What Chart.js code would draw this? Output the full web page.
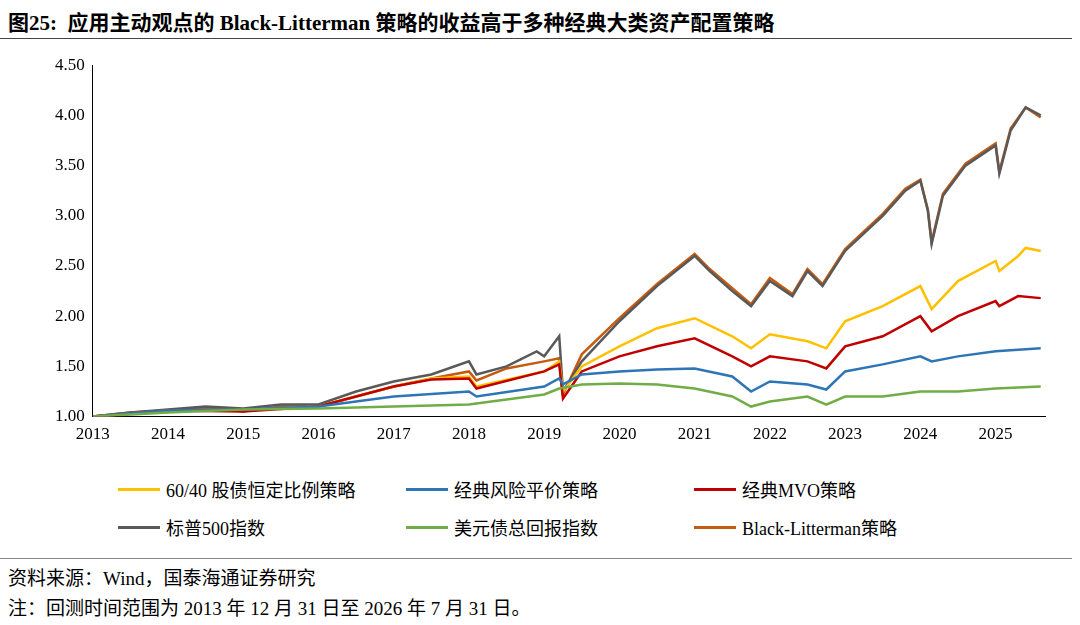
<!DOCTYPE html>
<html><head><meta charset="utf-8">
<script src="https://cdn.jsdelivr.net/npm/chart.js"></script>
<style>
body{margin:0;width:1080px;height:625px;background:#fff;font-family:"Liberation Serif","Noto Sans CJK SC",serif;position:relative;overflow:hidden}
#title{position:absolute;left:8px;top:6px;font-size:21px;font-weight:bold;color:#000}
.hr{position:absolute;left:0;width:1072px;border-top:1px solid #444}
#box{position:absolute;left:52px;top:52px;width:994px;height:396px}
#legend{position:absolute;left:118px;top:476px;width:900px;font-size:18px}
.it{position:absolute;display:flex;align-items:center;white-space:nowrap}
.sw{width:42px;height:3px;margin-right:6px}
.src{position:absolute;left:8px;font-size:19px}
</style></head><body>
<div id="title">图25:&nbsp;&nbsp;应用主动观点的 Black-Litterman 策略的收益高于多种经典大类资产配置策略</div>
<div class="hr" style="top:38px"></div>
<div id="box"><canvas id="c"></canvas></div>
<div id="legend"></div>
<div class="hr" style="top:558px;border-top:1px solid #888"></div>
<div class="src" style="top:563px">资料来源：Wind，国泰海通证券研究</div>
<div class="src" style="top:593px">注：回测时间范围为 2013 年 12 月 31 日至 2026 年 7 月 31 日。</div>
<script>
var yearTicks = [2013,2014,2015,2016,2017,2018,2019,2020,2021,2022,2023,2024,2025];

var spxX = [2013,2013.5,2014,2014.5,2015,2015.5,2016,2016.5,2017,2017.5,2018,2018.1,2018.5,2018.9,2019,2019.2,2019.25,2019.5,2020,2020.5,2021,2021.2,2021.5,2021.75,2022,2022.3,2022.5,2022.7,2023,2023.5,2023.8,2024,2024.1,2024.15,2024.3,2024.6,2025,2025.05,2025.2,2025.4,2025.6];
var spxY = [1.00,1.04,1.07,1.10,1.08,1.12,1.12,1.25,1.35,1.42,1.55,1.42,1.50,1.65,1.60,1.80,1.25,1.55,1.95,2.30,2.60,2.45,2.25,2.10,2.35,2.20,2.45,2.30,2.65,3.00,3.25,3.35,3.05,2.72,3.20,3.50,3.70,3.42,3.85,4.08,4.00];

var blX = [2013,2013.5,2014,2014.5,2015,2015.5,2016,2016.5,2017,2017.5,2018,2018.1,2018.5,2019,2019.2,2019.25,2019.5,2020,2020.5,2021,2021.2,2021.5,2021.75,2022,2022.3,2022.5,2022.7,2023,2023.5,2023.8,2024,2024.1,2024.15,2024.3,2024.6,2025,2025.05,2025.2,2025.4,2025.6];
var blY = [1.00,1.04,1.06,1.09,1.05,1.10,1.10,1.20,1.30,1.38,1.45,1.36,1.48,1.55,1.58,1.22,1.62,1.98,2.32,2.62,2.47,2.28,2.12,2.38,2.22,2.47,2.32,2.67,3.02,3.27,3.36,3.06,2.74,3.22,3.52,3.72,3.44,3.87,4.08,3.98];

var s6040X = [2013,2014,2015,2016,2016.5,2017,2017.5,2018,2018.1,2019,2019.2,2019.25,2019.5,2020,2020.5,2021,2021.5,2021.75,2022,2022.5,2022.75,2023,2023.5,2024,2024.15,2024.5,2025,2025.05,2025.3,2025.4,2025.6];
var s6040Y = [1.00,1.06,1.06,1.10,1.20,1.30,1.38,1.40,1.30,1.45,1.55,1.25,1.50,1.70,1.88,1.98,1.80,1.68,1.82,1.75,1.68,1.95,2.10,2.30,2.07,2.35,2.55,2.45,2.60,2.68,2.65];

var mvoX = [2013,2014,2015,2016,2017,2017.5,2018,2018.1,2019,2019.2,2019.25,2019.5,2020,2020.5,2021,2021.5,2021.75,2022,2022.5,2022.75,2023,2023.5,2024,2024.15,2024.5,2025,2025.05,2025.3,2025.6];
var mvoY = [1.00,1.06,1.05,1.10,1.30,1.37,1.38,1.28,1.45,1.52,1.18,1.45,1.60,1.70,1.78,1.60,1.50,1.60,1.55,1.48,1.70,1.80,2.00,1.85,2.00,2.15,2.10,2.20,2.18];

var rpX = [2013,2014,2015,2016,2017,2018,2018.1,2019,2019.2,2019.25,2019.5,2020,2020.5,2021,2021.5,2021.75,2022,2022.5,2022.75,2023,2023.5,2024,2024.15,2024.5,2025,2025.6];
var rpY = [1.00,1.06,1.07,1.10,1.20,1.25,1.20,1.30,1.38,1.32,1.42,1.45,1.47,1.48,1.40,1.25,1.35,1.32,1.27,1.45,1.52,1.60,1.55,1.60,1.65,1.68];

var bondX = [2013,2014,2015,2016,2017,2018,2019,2019.2,2019.5,2020,2020.5,2021,2021.5,2021.75,2022,2022.5,2022.75,2023,2023.5,2024,2024.5,2025,2025.6];
var bondY = [1.00,1.04,1.07,1.08,1.10,1.12,1.22,1.28,1.32,1.33,1.32,1.28,1.20,1.10,1.15,1.20,1.12,1.20,1.20,1.25,1.25,1.28,1.30];

var series = [
  {name:'60/40 股债恒定比例策略', x:s6040X, y:s6040Y, color:'#FFC000'},
  {name:'经典风险平价策略', x:rpX, y:rpY, color:'#2E75B6'},
  {name:'经典MVO策略', x:mvoX, y:mvoY, color:'#C00000'},
  {name:'标普500指数', x:spxX, y:spxY, color:'#595959'},
  {name:'美元债总回报指数', x:bondX, y:bondY, color:'#70AD47'},
  {name:'Black-Litterman策略', x:blX, y:blY, color:'#C55A11'}
];

var leg = document.getElementById('legend');
series.forEach(function(s,i){
  var d = document.createElement('div');
  d.className = 'it';
  d.style.left = (i%3)*288 + 'px';
  d.style.top = Math.floor(i/3)*38 + 'px';
  d.innerHTML = '<span class="sw" style="background:'+s.color+'"></span>'+s.name;
  leg.appendChild(d);
});

// draw order: bonds, rp, mvo, 6040, spx, bl on top
var order = [4,1,2,0,3,5];
var datasets = order.map(function(i){
  var s = series[i];
  return {
    label: s.name,
    data: s.x.map(function(v,k){ return {x:v, y:s.y[k]}; }),
    borderColor: s.color, borderWidth: 2.5, pointRadius: 0, tension: 0, fill: false
  };
});

new Chart(document.getElementById('c'), {
  type: 'line',
  data: {datasets: datasets},
  options: {
    animation: false, responsive: true, maintainAspectRatio: false,
    plugins: {legend: {display: false}, tooltip: {enabled: false}},
    scales: {
      x: {
        type: 'linear', min: 2013, max: 2025.67,
        afterBuildTicks: function(ax){ ax.ticks = yearTicks.map(function(v){ return {value:v}; }); },
        ticks: {color:'#000', font:{family:'Liberation Serif', size:17}, callback: function(v){ return String(v); }},
        grid: {display:false, drawTicks:true, tickLength:5, tickColor:'#000'},
        border: {color:'#000'}
      },
      y: {
        min: 1, max: 4.5,
        ticks: {stepSize: 0.5, color:'#000', font:{family:'Liberation Serif', size:17}, callback: function(v){ return v.toFixed(2); }},
        grid: {display:false, tickLength:5, tickColor:'#000'},
        border: {color:'#000'}
      }
    }
  }
});
</script>
</body></html>
